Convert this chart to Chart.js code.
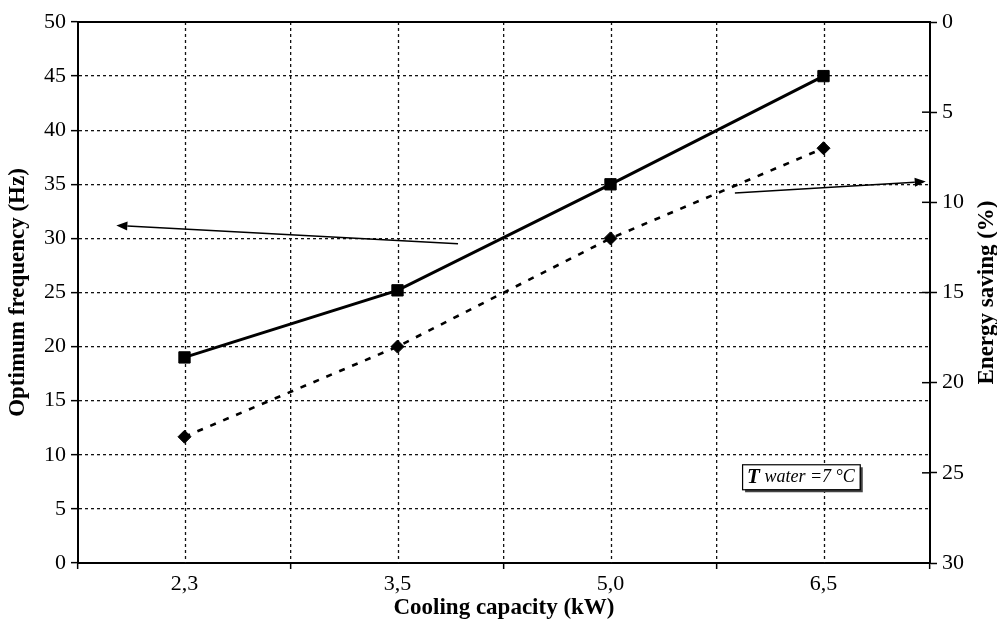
<!DOCTYPE html>
<html><head><meta charset="utf-8">
<script src="https://cdn.jsdelivr.net/npm/chart.js@4/dist/chart.umd.min.js"></script>
<style>html,body{margin:0;padding:0;background:#fff;}#wrap{width:997px;height:620px;}</style>
</head><body><div id="wrap"><canvas id="c" width="997" height="620"></canvas></div>
<script>
// ---- data ----
const categories = ['2,3', '3,5', '5,0', '6,5'];
const optimumFrequency = [19, 25.2, 35, 45];      // Hz, left axis
const energySaving = [23, 18, 12, 7];              // %, right axis (reversed)
const freqAxis = { min: 0, max: 50, step: 5 };
const savingAxis = { min: 0, max: 30, step: 5 };
const xTitle = 'Cooling capacity (kW)';
const yTitle = 'Optimum frequency (Hz)';
const y2Title = 'Energy saving (%)';
const noteBold = 'T';
const noteRest = ' water =7 °C';
// annotation anchors in data space (category index, left-axis value)
const arrowFreq = { from: [1.284, 29.5], to: [-0.32, 31.2] };
const arrowSaving = { from: [2.584, 34.2], to: [3.48, 35.25] };
const noteAnchor = [2.894, 7.97];

const FONT = "'Liberation Serif', 'Times New Roman', serif";
const DOT = [3, 3];

function arrow(ctx, x1, y1, x2, y2) {
  ctx.save();
  ctx.strokeStyle = '#000'; ctx.fillStyle = '#000'; ctx.lineWidth = 1.6; ctx.setLineDash([]);
  const a = Math.atan2(y2 - y1, x2 - x1), L = 11, W = 4.5;
  const bx = x2 - L * Math.cos(a), by = y2 - L * Math.sin(a);
  ctx.beginPath(); ctx.moveTo(x1, y1); ctx.lineTo(bx, by); ctx.stroke();
  ctx.beginPath(); ctx.moveTo(x2, y2);
  ctx.lineTo(bx + W * Math.sin(a), by - W * Math.cos(a));
  ctx.lineTo(bx - W * Math.sin(a), by + W * Math.cos(a));
  ctx.closePath(); ctx.fill();
  ctx.restore();
}

const decor = {
  id: 'decor',
  beforeDatasetsDraw(chart) {
    const { ctx, chartArea: a, scales } = chart;
    ctx.save();
    ctx.strokeStyle = '#111'; ctx.lineWidth = 1.3; ctx.setLineDash(DOT);
    categories.forEach((c, i) => {
      const x = Math.round(scales.x.getPixelForValue(i)) + 0.5;
      ctx.beginPath(); ctx.moveTo(x, a.top); ctx.lineTo(x, a.bottom); ctx.stroke();
    });
    ctx.setLineDash([]);
    ctx.strokeStyle = '#000'; ctx.lineWidth = 2;
    ctx.beginPath(); ctx.moveTo(a.left, a.top); ctx.lineTo(a.right, a.top); ctx.stroke();
    ctx.lineWidth = 1.5;
    scales.y2.ticks.forEach(t => {
      const y = scales.y2.getPixelForValue(t.value);
      ctx.beginPath(); ctx.moveTo(a.right - 8, y); ctx.lineTo(a.right, y); ctx.stroke();
    });
    ctx.restore();
  },
  afterDatasetsDraw(chart) {
    const { ctx, scales } = chart;
    const px = p => [scales.x.getPixelForValue(p[0]), scales.y.getPixelForValue(p[1])];
    let f = px(arrowFreq.from), t = px(arrowFreq.to);
    arrow(ctx, f[0], f[1], t[0], t[1]);
    f = px(arrowSaving.from); t = px(arrowSaving.to);
    arrow(ctx, f[0], f[1], t[0], t[1]);
    const [cx, cy] = px(noteAnchor);
    ctx.save();
    ctx.font = 'italic bold 21px ' + FONT;
    const w1 = ctx.measureText(noteBold).width;
    ctx.font = 'italic 18px ' + FONT;
    const w2 = ctx.measureText(noteRest).width;
    const tw = w1 + w2, bw = tw + 10, bh = 25;
    const bx = cx - bw / 2, by = cy - bh / 2;
    ctx.fillStyle = '#444';
    ctx.fillRect(bx + 3, by + 3, bw, bh);
    ctx.fillStyle = '#fff';
    ctx.fillRect(bx, by, bw, bh);
    ctx.strokeStyle = '#000'; ctx.lineWidth = 1.2;
    ctx.strokeRect(bx + 0.5, by + 0.5, bw, bh);
    ctx.fillStyle = '#000'; ctx.textBaseline = 'middle'; ctx.textAlign = 'left';
    ctx.font = 'italic bold 21px ' + FONT;
    ctx.fillText(noteBold, cx - tw / 2, cy + 1);
    ctx.font = 'italic 18px ' + FONT;
    ctx.fillText(noteRest, cx - tw / 2 + w1, cy + 1);
    ctx.restore();
  },
  afterDraw(chart) {
    const { ctx, chartArea: a } = chart;
    ctx.save();
    ctx.fillStyle = '#000';
    ctx.font = 'bold 23px ' + FONT;
    ctx.textAlign = 'center'; ctx.textBaseline = 'middle';
    ctx.translate(987, (a.top + a.bottom) / 2);
    ctx.rotate(-Math.PI / 2);
    ctx.fillText(y2Title, 0, 0);
    ctx.restore();
  }
};

const tickFont = { family: FONT, size: 22 };
const titleFont = { family: FONT, size: 23, weight: 'bold', lineHeight: 1 };

new Chart(document.getElementById('c'), {
  type: 'line',
  data: {
    labels: categories,
    datasets: [
      {
        label: 'Optimum frequency', data: optimumFrequency, yAxisID: 'y',
        borderColor: '#000', backgroundColor: '#000', borderWidth: 3,
        pointStyle: 'rect', pointRadius: 8, pointBorderWidth: 1, pointBackgroundColor: '#000',
        fill: false, tension: 0
      },
      {
        label: 'Energy saving', data: energySaving, yAxisID: 'y2',
        borderColor: '#000', backgroundColor: '#000', borderWidth: 2.6, borderDash: [6, 8],
        pointStyle: 'rectRot', pointRadius: 6.5, pointBorderWidth: 1, pointBackgroundColor: '#000',
        fill: false, tension: 0
      }
    ]
  },
  options: {
    responsive: false, devicePixelRatio: 1, animation: false,
    layout: { padding: { top: 22, left: 0, right: 0, bottom: 0 } },
    plugins: { legend: { display: false }, tooltip: { enabled: false } },
    scales: {
      x: {
        type: 'category', offset: true,
        grid: { offset: true, color: '#111', lineWidth: 1.3, tickLength: 6, tickColor: '#000', tickWidth: 1.5, tickBorderDash: [] },
        border: { display: true, color: '#000', width: 2, dash: DOT },
        ticks: { font: tickFont, color: '#000', padding: 2, maxRotation: 0 },
        title: { display: true, text: xTitle, font: titleFont, color: '#000', padding: { top: 0, bottom: 0 } },
        afterFit: s => { s.height = 57; }
      },
      y: {
        position: 'left', min: freqAxis.min, max: freqAxis.max,
        grid: { color: '#111', lineWidth: 1.3, tickLength: 7, tickColor: '#000', tickWidth: 1.5, tickBorderDash: [] },
        border: { display: true, color: '#000', width: 2, dash: DOT },
        ticks: { stepSize: freqAxis.step, font: tickFont, color: '#000', padding: 5 },
        title: { display: true, text: yTitle, font: titleFont, color: '#000', padding: { top: 7, bottom: 0 } },
        afterFit: s => { s.width = 78; }
      },
      y2: {
        position: 'right', reverse: true, min: savingAxis.min, max: savingAxis.max,
        grid: { drawOnChartArea: false, tickLength: 7, tickColor: '#000', tickWidth: 1.5, tickBorderDash: [] },
        border: { display: true, color: '#000', width: 2 },
        ticks: { stepSize: savingAxis.step, font: tickFont, color: '#000', padding: 5 },
        title: { display: false, text: y2Title },
        afterFit: s => { s.width = 67; }
      }
    }
  },
  plugins: [decor]
});
</script>
</body></html>
